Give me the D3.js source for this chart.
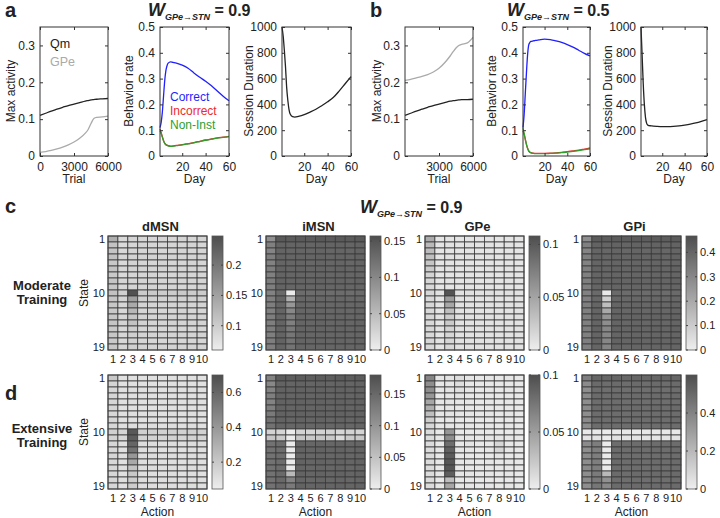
<!DOCTYPE html>
<html><head><meta charset="utf-8">
<script src="https://cdn.jsdelivr.net/npm/d3@7"></script>
<style>
body{margin:0;background:#fff}
svg{display:block}
text{font-family:"Liberation Sans",Arial,sans-serif;fill:#222}
</style>
</head><body>
<svg id="fig" width="720" height="518"></svg>
<script>
// ---------------- DATA ----------------
const trials = [0,500,1000,1500,2000,2500,3000,3500,4000,4250,4500,4750,5000,5500,6000];
const aQm  = [0.110,0.116,0.122,0.127,0.132,0.137,0.141,0.145,0.149,0.1505,0.152,0.153,0.154,0.155,0.156];
const aGPe = [0.010,0.012,0.015,0.019,0.024,0.030,0.038,0.048,0.062,0.072,0.088,0.102,0.105,0.106,0.108];
const bQm  = [0.110,0.116,0.122,0.127,0.132,0.137,0.141,0.145,0.149,0.150,0.151,0.152,0.153,0.153,0.154];
const bGPe = [0.205,0.208,0.212,0.216,0.221,0.228,0.238,0.253,0.272,0.283,0.293,0.300,0.303,0.307,0.322];

const days = [1,2,3,4,5,6,7,8,10,12,15,20,25,30,35,40,45,50,55,60];
const aCorrect   = [0.110,0.130,0.170,0.230,0.290,0.330,0.350,0.360,0.365,0.363,0.360,0.352,0.340,0.322,0.305,0.290,0.272,0.252,0.232,0.214];
const aIncorrect = [0.105,0.090,0.075,0.060,0.050,0.045,0.042,0.040,0.038,0.039,0.041,0.044,0.048,0.052,0.057,0.062,0.066,0.070,0.073,0.076];
const aNonInst   = [0.098,0.087,0.073,0.059,0.049,0.044,0.041,0.039,0.037,0.038,0.040,0.043,0.047,0.051,0.056,0.061,0.065,0.069,0.072,0.075];
const aSession   = [1000,930,820,690,530,430,360,325,305,302,307,320,340,362,390,420,455,505,560,615];
const bCorrect   = [0.110,0.160,0.240,0.320,0.390,0.430,0.440,0.444,0.446,0.448,0.450,0.453,0.451,0.446,0.440,0.432,0.422,0.410,0.398,0.388];
const bIncorrect = [0.098,0.084,0.064,0.045,0.030,0.020,0.015,0.013,0.011,0.010,0.010,0.010,0.011,0.012,0.014,0.017,0.020,0.023,0.027,0.031];
const bNonInst   = [0.108,0.088,0.066,0.046,0.031,0.020,0.015,0.012,0.010,0.009,0.009,0.009,0.010,0.011,0.013,0.015,0.018,0.021,0.025,0.028];
const bSession   = [1000,780,560,400,300,255,240,236,234,232,230,228,228,230,234,240,247,256,268,282];

const actions = [1,2,3,4,5,6,7,8,9,10];
const states = [1,2,3,4,5,6,7,8,9,10,11,12,13,14,15,16,17,18,19];
const stateTicks = [1,10,19];

// c: moderate training
const cDmsn = [
[0.135,0.085,0.090,0.088,0.088,0.090,0.088,0.090,0.088,0.090],
[0.110,0.082,0.088,0.090,0.088,0.087,0.089,0.088,0.090,0.088],
[0.108,0.085,0.090,0.088,0.090,0.088,0.088,0.090,0.088,0.089],
[0.112,0.088,0.092,0.090,0.092,0.090,0.092,0.090,0.091,0.090],
[0.105,0.085,0.090,0.088,0.088,0.090,0.088,0.088,0.090,0.088],
[0.110,0.088,0.092,0.090,0.090,0.092,0.090,0.090,0.092,0.090],
[0.104,0.085,0.088,0.088,0.090,0.088,0.088,0.090,0.088,0.088],
[0.108,0.088,0.090,0.090,0.090,0.090,0.090,0.090,0.090,0.090],
[0.106,0.086,0.090,0.088,0.090,0.088,0.090,0.088,0.088,0.090],
[0.112,0.095,0.245,0.100,0.102,0.100,0.100,0.102,0.100,0.100],
[0.108,0.090,0.152,0.095,0.095,0.094,0.095,0.094,0.095,0.094],
[0.106,0.088,0.140,0.090,0.090,0.090,0.090,0.090,0.090,0.090],
[0.104,0.086,0.125,0.088,0.090,0.088,0.088,0.090,0.088,0.088],
[0.106,0.088,0.108,0.090,0.090,0.090,0.090,0.090,0.090,0.090],
[0.108,0.090,0.110,0.092,0.090,0.090,0.092,0.090,0.090,0.092],
[0.104,0.086,0.098,0.088,0.088,0.088,0.088,0.088,0.088,0.088],
[0.106,0.088,0.096,0.090,0.090,0.090,0.090,0.090,0.090,0.090],
[0.104,0.086,0.094,0.088,0.088,0.088,0.088,0.088,0.088,0.088],
[0.106,0.088,0.095,0.090,0.090,0.090,0.090,0.090,0.090,0.090]];
const cImsn = [
[0.092,0.146,0.144,0.145,0.144,0.146,0.144,0.145,0.144,0.146],
[0.108,0.136,0.135,0.136,0.134,0.136,0.135,0.136,0.134,0.136],
[0.104,0.135,0.133,0.134,0.133,0.135,0.133,0.134,0.133,0.135],
[0.110,0.136,0.134,0.135,0.134,0.136,0.134,0.135,0.134,0.136],
[0.106,0.134,0.133,0.134,0.132,0.134,0.133,0.134,0.132,0.134],
[0.110,0.136,0.134,0.136,0.134,0.135,0.134,0.136,0.134,0.135],
[0.108,0.135,0.133,0.134,0.133,0.134,0.133,0.134,0.133,0.134],
[0.111,0.136,0.134,0.135,0.134,0.136,0.134,0.135,0.134,0.136],
[0.109,0.135,0.133,0.134,0.133,0.134,0.133,0.134,0.133,0.134],
[0.106,0.130,0.004,0.128,0.127,0.129,0.127,0.128,0.127,0.129],
[0.109,0.133,0.060,0.132,0.131,0.132,0.131,0.132,0.131,0.132],
[0.110,0.134,0.085,0.133,0.132,0.133,0.132,0.133,0.132,0.133],
[0.108,0.134,0.100,0.133,0.132,0.134,0.132,0.133,0.132,0.134],
[0.110,0.135,0.110,0.134,0.133,0.134,0.133,0.134,0.133,0.134],
[0.109,0.135,0.108,0.134,0.133,0.135,0.133,0.134,0.133,0.135],
[0.111,0.136,0.115,0.135,0.134,0.135,0.134,0.135,0.134,0.135],
[0.109,0.135,0.118,0.134,0.133,0.134,0.133,0.134,0.133,0.134],
[0.110,0.136,0.120,0.135,0.134,0.135,0.134,0.135,0.134,0.135],
[0.109,0.135,0.120,0.134,0.133,0.134,0.133,0.134,0.133,0.134]];
const cGpe = [
[0.045,0.006,0.007,0.006,0.007,0.006,0.007,0.006,0.007,0.006],
[0.036,0.007,0.008,0.007,0.008,0.007,0.008,0.007,0.008,0.007],
[0.034,0.006,0.007,0.006,0.007,0.006,0.007,0.006,0.007,0.006],
[0.032,0.007,0.008,0.007,0.008,0.007,0.008,0.007,0.008,0.007],
[0.028,0.006,0.007,0.006,0.007,0.006,0.007,0.006,0.007,0.006],
[0.024,0.007,0.008,0.007,0.008,0.007,0.008,0.007,0.008,0.007],
[0.018,0.006,0.007,0.006,0.007,0.006,0.007,0.006,0.007,0.006],
[0.016,0.007,0.008,0.007,0.008,0.007,0.008,0.007,0.008,0.007],
[0.015,0.006,0.007,0.006,0.007,0.006,0.007,0.006,0.007,0.006],
[0.016,0.008,0.104,0.009,0.010,0.009,0.010,0.009,0.010,0.009],
[0.015,0.007,0.055,0.008,0.008,0.008,0.008,0.008,0.008,0.008],
[0.016,0.008,0.048,0.009,0.009,0.009,0.009,0.009,0.009,0.009],
[0.015,0.007,0.032,0.008,0.008,0.008,0.008,0.008,0.008,0.008],
[0.016,0.008,0.022,0.009,0.009,0.009,0.009,0.009,0.009,0.009],
[0.015,0.007,0.024,0.008,0.008,0.008,0.008,0.008,0.008,0.008],
[0.016,0.008,0.018,0.009,0.009,0.009,0.009,0.009,0.009,0.009],
[0.015,0.007,0.016,0.008,0.008,0.008,0.008,0.008,0.008,0.008],
[0.016,0.008,0.016,0.009,0.009,0.009,0.009,0.009,0.009,0.009],
[0.015,0.007,0.015,0.008,0.008,0.008,0.008,0.008,0.008,0.008]];
const cGpi = [
[0.280,0.430,0.425,0.430,0.425,0.430,0.425,0.430,0.425,0.430],
[0.320,0.405,0.400,0.405,0.400,0.405,0.400,0.405,0.400,0.405],
[0.310,0.400,0.395,0.400,0.395,0.400,0.395,0.400,0.395,0.400],
[0.325,0.405,0.400,0.405,0.400,0.405,0.400,0.405,0.400,0.405],
[0.315,0.400,0.395,0.400,0.395,0.400,0.395,0.400,0.395,0.400],
[0.325,0.405,0.400,0.405,0.400,0.405,0.400,0.405,0.400,0.405],
[0.320,0.400,0.395,0.400,0.395,0.400,0.395,0.400,0.395,0.400],
[0.325,0.405,0.400,0.405,0.400,0.405,0.400,0.405,0.400,0.405],
[0.320,0.400,0.395,0.400,0.395,0.400,0.395,0.400,0.395,0.400],
[0.315,0.385,0.015,0.385,0.380,0.385,0.380,0.385,0.380,0.385],
[0.320,0.395,0.090,0.395,0.390,0.395,0.390,0.395,0.390,0.395],
[0.325,0.400,0.140,0.400,0.395,0.400,0.395,0.400,0.395,0.400],
[0.320,0.400,0.200,0.400,0.395,0.400,0.395,0.400,0.395,0.400],
[0.325,0.405,0.260,0.405,0.400,0.405,0.400,0.405,0.400,0.405],
[0.320,0.400,0.280,0.400,0.395,0.400,0.395,0.400,0.395,0.400],
[0.325,0.405,0.300,0.405,0.400,0.405,0.400,0.405,0.400,0.405],
[0.320,0.400,0.300,0.400,0.395,0.400,0.395,0.400,0.395,0.400],
[0.325,0.405,0.300,0.405,0.400,0.405,0.400,0.405,0.400,0.405],
[0.320,0.400,0.305,0.400,0.395,0.400,0.395,0.400,0.395,0.400]];

// d: extensive training
const dDmsn = [
[0.200,0.100,0.105,0.100,0.105,0.100,0.105,0.100,0.105,0.100],
[0.150,0.100,0.105,0.100,0.105,0.100,0.105,0.100,0.105,0.100],
[0.140,0.105,0.110,0.105,0.110,0.105,0.110,0.105,0.110,0.105],
[0.145,0.100,0.105,0.100,0.105,0.100,0.105,0.100,0.105,0.100],
[0.140,0.105,0.110,0.105,0.110,0.105,0.110,0.105,0.110,0.105],
[0.145,0.100,0.105,0.100,0.105,0.100,0.105,0.100,0.105,0.100],
[0.140,0.105,0.110,0.105,0.110,0.105,0.110,0.105,0.110,0.105],
[0.145,0.100,0.105,0.100,0.105,0.100,0.105,0.100,0.105,0.100],
[0.140,0.105,0.110,0.105,0.110,0.105,0.110,0.105,0.110,0.105],
[0.170,0.150,0.660,0.170,0.170,0.160,0.170,0.160,0.170,0.160],
[0.160,0.140,0.640,0.160,0.160,0.150,0.160,0.150,0.160,0.150],
[0.145,0.110,0.600,0.115,0.115,0.110,0.115,0.110,0.115,0.110],
[0.140,0.105,0.550,0.110,0.110,0.105,0.110,0.105,0.110,0.105],
[0.145,0.110,0.400,0.115,0.115,0.110,0.115,0.110,0.115,0.110],
[0.140,0.105,0.330,0.110,0.110,0.105,0.110,0.105,0.110,0.105],
[0.145,0.110,0.220,0.115,0.115,0.110,0.115,0.110,0.115,0.110],
[0.140,0.105,0.200,0.110,0.110,0.105,0.110,0.105,0.110,0.105],
[0.145,0.110,0.180,0.115,0.115,0.110,0.115,0.110,0.115,0.110],
[0.140,0.105,0.180,0.110,0.110,0.105,0.110,0.105,0.110,0.105]];
const dImsn = [
[0.120,0.164,0.162,0.164,0.162,0.164,0.162,0.164,0.162,0.164],
[0.115,0.156,0.154,0.156,0.154,0.156,0.154,0.156,0.154,0.156],
[0.120,0.158,0.156,0.158,0.156,0.158,0.156,0.158,0.156,0.158],
[0.125,0.156,0.154,0.156,0.154,0.156,0.154,0.156,0.154,0.156],
[0.120,0.158,0.156,0.158,0.156,0.158,0.156,0.158,0.156,0.158],
[0.125,0.156,0.154,0.156,0.154,0.156,0.154,0.156,0.154,0.156],
[0.130,0.158,0.156,0.158,0.156,0.158,0.156,0.158,0.156,0.158],
[0.140,0.156,0.154,0.156,0.154,0.156,0.154,0.156,0.154,0.156],
[0.140,0.154,0.152,0.154,0.152,0.154,0.152,0.154,0.152,0.154],
[0.030,0.028,0.003,0.030,0.028,0.030,0.032,0.026,0.030,0.028],
[0.045,0.040,0.003,0.045,0.042,0.045,0.042,0.020,0.040,0.042],
[0.140,0.145,0.003,0.154,0.152,0.154,0.152,0.154,0.152,0.154],
[0.140,0.145,0.003,0.156,0.154,0.156,0.154,0.156,0.154,0.156],
[0.140,0.145,0.003,0.154,0.152,0.154,0.152,0.154,0.152,0.154],
[0.140,0.145,0.003,0.156,0.154,0.156,0.154,0.156,0.154,0.156],
[0.140,0.145,0.005,0.154,0.152,0.154,0.152,0.154,0.152,0.154],
[0.140,0.148,0.060,0.156,0.154,0.156,0.154,0.156,0.154,0.156],
[0.140,0.150,0.120,0.154,0.152,0.154,0.152,0.154,0.152,0.154],
[0.140,0.150,0.130,0.156,0.154,0.156,0.154,0.156,0.154,0.156]];
const dGpe = [
[0.065,0.005,0.006,0.010,0.005,0.004,0.005,0.004,0.005,0.004],
[0.060,0.004,0.005,0.010,0.004,0.004,0.004,0.004,0.004,0.004],
[0.060,0.005,0.006,0.009,0.005,0.004,0.005,0.004,0.005,0.004],
[0.055,0.004,0.005,0.006,0.004,0.004,0.004,0.004,0.004,0.004],
[0.045,0.005,0.006,0.005,0.005,0.004,0.005,0.004,0.005,0.004],
[0.040,0.004,0.005,0.004,0.004,0.004,0.004,0.004,0.004,0.004],
[0.030,0.005,0.006,0.005,0.005,0.004,0.005,0.004,0.005,0.004],
[0.020,0.004,0.005,0.004,0.004,0.004,0.004,0.004,0.004,0.004],
[0.015,0.005,0.006,0.005,0.005,0.004,0.005,0.004,0.005,0.004],
[0.012,0.004,0.055,0.004,0.004,0.004,0.004,0.004,0.004,0.004],
[0.012,0.005,0.060,0.005,0.005,0.004,0.005,0.006,0.005,0.004],
[0.012,0.004,0.080,0.004,0.006,0.004,0.004,0.015,0.004,0.004],
[0.012,0.005,0.088,0.005,0.005,0.004,0.005,0.015,0.005,0.004],
[0.012,0.004,0.092,0.004,0.004,0.004,0.004,0.006,0.004,0.004],
[0.012,0.005,0.095,0.005,0.005,0.004,0.005,0.004,0.005,0.004],
[0.012,0.004,0.095,0.004,0.004,0.004,0.004,0.004,0.004,0.004],
[0.012,0.005,0.090,0.005,0.005,0.004,0.005,0.004,0.005,0.004],
[0.012,0.004,0.030,0.004,0.004,0.004,0.004,0.004,0.004,0.004],
[0.012,0.005,0.045,0.005,0.005,0.004,0.005,0.004,0.005,0.004]];
const dGpi = [
[0.420,0.510,0.505,0.510,0.505,0.510,0.505,0.510,0.505,0.510],
[0.370,0.490,0.485,0.490,0.485,0.490,0.485,0.490,0.485,0.490],
[0.360,0.485,0.480,0.485,0.480,0.485,0.480,0.485,0.480,0.485],
[0.370,0.490,0.485,0.490,0.485,0.490,0.485,0.490,0.485,0.490],
[0.360,0.485,0.480,0.485,0.480,0.485,0.480,0.485,0.480,0.485],
[0.370,0.490,0.485,0.490,0.485,0.490,0.485,0.490,0.485,0.490],
[0.360,0.485,0.480,0.485,0.480,0.485,0.480,0.485,0.480,0.485],
[0.370,0.490,0.485,0.490,0.485,0.490,0.485,0.490,0.485,0.490],
[0.360,0.485,0.480,0.485,0.480,0.485,0.480,0.485,0.480,0.485],
[0.020,0.020,0.010,0.020,0.025,0.020,0.025,0.020,0.025,0.020],
[0.040,0.045,0.010,0.045,0.040,0.045,0.040,0.030,0.045,0.040],
[0.370,0.420,0.010,0.485,0.480,0.485,0.480,0.485,0.480,0.485],
[0.360,0.420,0.010,0.490,0.485,0.490,0.485,0.490,0.485,0.490],
[0.370,0.420,0.010,0.485,0.480,0.485,0.480,0.485,0.480,0.485],
[0.360,0.420,0.010,0.490,0.485,0.490,0.485,0.490,0.485,0.490],
[0.370,0.420,0.020,0.485,0.480,0.485,0.480,0.485,0.480,0.485],
[0.360,0.430,0.200,0.490,0.485,0.490,0.485,0.490,0.485,0.490],
[0.370,0.440,0.350,0.485,0.480,0.485,0.480,0.485,0.480,0.485],
[0.360,0.450,0.380,0.490,0.485,0.490,0.485,0.490,0.485,0.490]];

// ---------------- DRAW ----------------
const svg = d3.select("#fig");
const FS = 12, HFS = 11;

function axesBox(g, x, y, xt, yt, xfmt, yfmt) {
  const [x0,x1] = x.range(), [y1,y0] = y.range();
  g.append("rect").attr("x",x0).attr("y",y0).attr("width",x1-x0).attr("height",y1-y0)
    .attr("fill","none").attr("stroke","#333").attr("stroke-width",1);
  const ax = (gen, tx, ty, lab) => {
    const a = g.append("g").attr("transform",`translate(${tx},${ty})`).call(gen);
    a.select(".domain").remove();
    a.selectAll("line").attr("stroke","#333");
    a.selectAll("text").style("font-size",FS+"px").attr("fill","#222");
    if (!lab) a.selectAll("text").remove();
  };
  ax(d3.axisLeft(y).tickValues(yt).tickSize(-3).tickPadding(5).tickFormat(yfmt), x0, 0, true);
  ax(d3.axisRight(y).tickValues(yt).tickSize(-3), x1, 0, false);
  ax(d3.axisBottom(x).tickValues(xt).tickSize(-3).tickPadding(6).tickFormat(xfmt), 0, y1, true);
  ax(d3.axisTop(x).tickValues(xt).tickSize(-3), 0, y0, false);
}

function linePlot(o) {
  const g = svg.append("g");
  const x = d3.scaleLinear().domain(o.xd).range([o.x0,o.x1]);
  const y = d3.scaleLinear().domain(o.yd).range([156,27]);
  o.series.forEach(s => {
    g.append("path").datum(s.ys)
      .attr("d", d3.line().x((d,i)=>x(s.xs[i])).y(d=>y(d)).curve(d3.curveMonotoneX))
      .attr("fill","none").attr("stroke",s.color).attr("stroke-width",1.3);
  });
  axesBox(g, x, y, o.xt, o.yt, d=>String(d), d=>String(d));
  g.append("text").attr("transform",`translate(${o.x0+o.yl},91) rotate(-90)`)
    .attr("text-anchor","middle").style("font-size",FS+"px").text(o.ylabel);
  g.append("text").attr("x",(o.x0+o.x1)/2).attr("y",183).attr("text-anchor","middle")
    .style("font-size",FS+"px").text(o.xlabel);
  return {g,x,y};
}

// panel a
const a1 = linePlot({x0:40,x1:108,xd:[0,6000],yd:[0,0.35],xt:[0,3000,6000],yt:[0,0.1,0.2,0.3],
  series:[{xs:trials,ys:aQm,color:"#222"},{xs:trials,ys:aGPe,color:"#aaa"}],ylabel:"Max activity",xlabel:"Trial",yl:-25});
a1.g.append("text").attr("x",50).attr("y",48).style("font-size","12.5px").attr("fill","#222").text("Qm");
a1.g.append("text").attr("x",50).attr("y",66).style("font-size","12.5px").style("fill","#aaa").text("GPe");

const a2 = linePlot({x0:160,x1:229,xd:[1,60],yd:[0,0.5],xt:[20,40,60],yt:[0,0.1,0.2,0.3,0.4,0.5],
  series:[{xs:days,ys:aIncorrect,color:"#ee2a2a"},{xs:days,ys:aNonInst,color:"#2ca02c"},{xs:days,ys:aCorrect,color:"#1f1fff"}],
  ylabel:"Behavior rate",xlabel:"Day",yl:-27});
a2.g.append("text").attr("x",170).attr("y",101).style("font-size","12px").style("fill","#1f1fff").text("Correct");
a2.g.append("text").attr("x",170).attr("y",115).style("font-size","12px").style("fill","#ee2a2a").text("Incorrect");
a2.g.append("text").attr("x",170).attr("y",129).style("font-size","12px").style("fill","#2ca02c").text("Non-Inst");

linePlot({x0:282,x1:351,xd:[1,60],yd:[0,1000],xt:[20,40,60],yt:[0,200,400,600,800,1000],
  series:[{xs:days,ys:aSession,color:"#222"}],ylabel:"Session Duration",xlabel:"Day",yl:-29});

// panel b
linePlot({x0:405,x1:473,xd:[0,6000],yd:[0,0.35],xt:[3000,6000],yt:[0,0.1,0.2,0.3],
  series:[{xs:trials,ys:bQm,color:"#222"},{xs:trials,ys:bGPe,color:"#aaa"}],ylabel:"Max activity",xlabel:"Trial",yl:-24});
linePlot({x0:523,x1:590,xd:[1,60],yd:[0,0.5],xt:[20,40,60],yt:[0,0.1,0.2,0.3,0.4,0.5],
  series:[{xs:days,ys:bIncorrect,color:"#ee2a2a"},{xs:days,ys:bNonInst,color:"#2ca02c"},{xs:days,ys:bCorrect,color:"#1f1fff"}],
  ylabel:"Behavior rate",xlabel:"Day",yl:-27});
linePlot({x0:641,x1:707,xd:[1,60],yd:[0,1000],xt:[20,40,60],yt:[0,200,400,600,800,1000],
  series:[{xs:days,ys:bSession,color:"#222"}],ylabel:"Session Duration",xlabel:"Day",yl:-29});

// titles & panel letters
function wTitle(x, y, val) {
  const t = svg.append("text").attr("x",x).attr("y",y).style("font-weight","bold");
  t.append("tspan").style("font-size","18px").style("font-style","italic").text("W");
  t.append("tspan").attr("dy",4).style("font-size","9px").style("font-style","italic").text("GPe\u2192STN");
  t.append("tspan").attr("dy",-4).style("font-size","16px").text(" = " + val);
}
wTitle(148,16,"0.9");
wTitle(507,16,"0.5");
wTitle(360,213,"0.9");
[["a",5,17],["b",370,17],["c",5,213],["d",5,400]].forEach(([l,x,y]) =>
  svg.append("text").attr("x",x).attr("y",y).style("font-size","20px").style("font-weight","bold").attr("fill","#111").text(l));

// heatmaps
const HW = 99, HH = 114;
const LOW = "#eeeeee", HIGH = "#4e4e4e";
const defs = svg.append("defs");
const grad = defs.append("linearGradient").attr("id","cbg").attr("x1",0).attr("y1",1).attr("x2",0).attr("y2",0);
grad.append("stop").attr("offset","0%").attr("stop-color",LOW);
grad.append("stop").attr("offset","100%").attr("stop-color",HIGH);

function heat(o) {
  const g = svg.append("g");
  const x = d3.scaleBand().domain(actions).range([o.x0,o.x0+HW]);
  const y = d3.scaleBand().domain(states).range([o.y0,o.y0+HH]);
  const col = d3.scaleLinear().domain([o.cmin,o.cmax]).range([LOW,HIGH]).clamp(true);
  const cells = [];
  o.m.forEach((row,i) => row.forEach((v,j) => cells.push({s:states[i],a:actions[j],v})));
  g.selectAll("rect.cell").data(cells).join("rect").attr("class","cell")
    .attr("x",d=>x(d.a)).attr("y",d=>y(d.s)).attr("width",x.bandwidth()).attr("height",y.bandwidth())
    .attr("fill",d=>col(d.v)).attr("stroke","#3a3a3a").attr("stroke-width",0.8);
  g.append("rect").attr("x",o.x0).attr("y",o.y0).attr("width",HW).attr("height",HH)
    .attr("fill","none").attr("stroke","#444").attr("stroke-width",1);
  g.selectAll("text.yt").data(stateTicks).join("text").attr("class","yt")
    .attr("x",o.x0-3).attr("y",d=>y(d)+y.bandwidth()/2).attr("dy","0.35em")
    .attr("text-anchor","end").style("font-size",HFS+"px").text(d=>d);
  g.selectAll("text.xt").data(actions).join("text").attr("class","xt")
    .attr("x",d=>x(d)+x.bandwidth()/2).attr("y",o.y0+HH+9).attr("dy","0.35em")
    .attr("text-anchor","middle").style("font-size",HFS+"px").text(d=>d);
  const cx = o.x0+HW+5, cw = 11;
  const cy = d3.scaleLinear().domain([o.cmin,o.cmax]).range([o.y0+HH,o.y0]);
  g.append("rect").attr("x",cx).attr("y",o.y0).attr("width",cw).attr("height",HH)
    .attr("fill","url(#cbg)").attr("stroke","#555").attr("stroke-width",0.8);
  o.ct.forEach(t => {
    g.append("line").attr("x1",cx+cw-2).attr("x2",cx+cw).attr("y1",cy(t)).attr("y2",cy(t)).attr("stroke","#444");
    g.append("line").attr("x1",cx).attr("x2",cx+2).attr("y1",cy(t)).attr("y2",cy(t)).attr("stroke","#444");
    g.append("text").attr("x",cx+cw+3).attr("y",cy(t)).attr("dy","0.35em").style("font-size",HFS+"px").text(String(t));
  });
  if (o.title) g.append("text").attr("x",o.x0+HW/2+3).attr("y",o.y0-5).attr("text-anchor","middle")
    .style("font-size","13px").style("font-weight","bold").text(o.title);
  if (o.state) g.append("text").attr("transform",`translate(${o.x0-20},${o.y0+HH/2}) rotate(-90)`)
    .attr("text-anchor","middle").style("font-size",FS+"px").text("State");
  if (o.action) g.append("text").attr("x",o.x0+HW/2).attr("y",516).attr("text-anchor","middle")
    .style("font-size",FS+"px").text("Action");
}
const hx = [108,266,425,582];
heat({x0:hx[0],y0:236,m:cDmsn,cmin:0.06,cmax:0.248,ct:[0.1,0.15,0.2],title:"dMSN",state:true});
heat({x0:hx[1],y0:236,m:cImsn,cmin:0,cmax:0.157,ct:[0,0.05,0.1,0.15],title:"iMSN"});
heat({x0:hx[2],y0:236,m:cGpe,cmin:0,cmax:0.108,ct:[0,0.05,0.1],title:"GPe"});
heat({x0:hx[3],y0:236,m:cGpi,cmin:0,cmax:0.467,ct:[0,0.1,0.2,0.3,0.4],title:"GPi"});
heat({x0:hx[0],y0:375,m:dDmsn,cmin:0.046,cmax:0.70,ct:[0.2,0.4,0.6],state:true,action:true});
heat({x0:hx[1],y0:375,m:dImsn,cmin:0,cmax:0.18,ct:[0,0.05,0.1,0.15],action:true});
heat({x0:hx[2],y0:375,m:dGpe,cmin:0,cmax:0.1,ct:[0,0.05,0.1],action:true});
heat({x0:hx[3],y0:375,m:dGpi,cmin:0,cmax:0.6,ct:[0,0.2,0.4],action:true});

// row labels
[["Moderate",290],["Training",304],["Extensive",433],["Training",447]].forEach(([t,y]) =>
  svg.append("text").attr("x",42).attr("y",y).attr("text-anchor","middle")
    .style("font-size","13px").style("font-weight","bold").attr("fill","#222").text(t));
</script>
</body></html>
